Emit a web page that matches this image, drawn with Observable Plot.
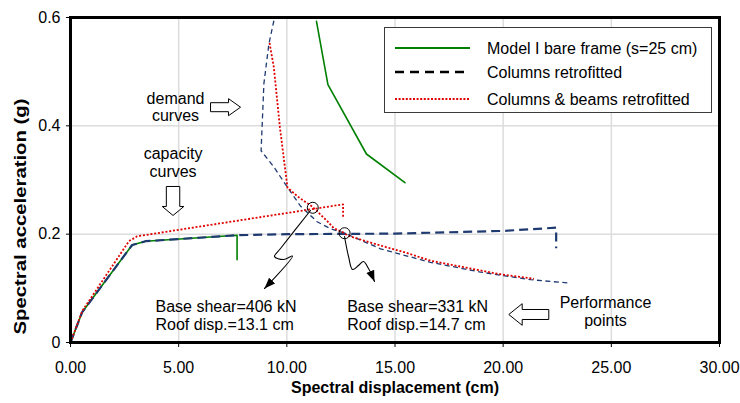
<!DOCTYPE html>
<html><head><meta charset="utf-8">
<script src="https://cdn.jsdelivr.net/npm/d3@7"></script>
<script src="https://cdn.jsdelivr.net/npm/@observablehq/plot@0.6"></script>
<style>
body{margin:0;background:#fff;}
#wrap{position:relative;width:740px;height:403px;font-family:"Liberation Sans",Arial,sans-serif;}
#legend{position:absolute;left:384px;top:27px;width:328px;height:86px;box-sizing:border-box;border:1.5px solid #3a3a3a;background:#fff;}
</style></head>
<body><div id="wrap"></div>
<script>
// ---- data ----
const xTicks = [0, 5, 10, 15, 20, 25, 30];
const yTicks = [0, 0.2, 0.4, 0.6];
const gridX = [5, 10, 15, 20, 25];
const gridY = [0.2, 0.4];
const seriesNames = ["Model I bare frame (s=25 cm)", "Columns retrofitted", "Columns & beams retrofitted"];
const xTitle = "Spectral displacement (cm)";
const yTitle = "Spectral acceleration (g)";

// capacity curves
const bareCapX = [0, 0.54, 2.85, 3.47, 7.7, 7.7];
const bareCapY = [0, 0.056, 0.18, 0.187, 0.198, 0.153];
const colCapX = [0, 0.54, 2.85, 3.47, 7.7, 10, 15, 20, 22.45, 22.45];
const colCapY = [0, 0.056, 0.18, 0.187, 0.198, 0.2, 0.201, 0.206, 0.212, 0.174];
const cbCapX = [0, 0.54, 2.7, 3.08, 5, 10, 12.6, 12.6];
const cbCapY = [0, 0.058, 0.187, 0.196, 0.208, 0.239, 0.255, 0.232];

// demand curves
const bareDemX = [11.37, 11.9, 13.68, 15.46];
const bareDemY = [0.593, 0.476, 0.348, 0.295];
const colDemX = [9.4, 9.17, 8.94, 8.81, 9.4, 10.02, 10.63, 11.4, 12.02, 12.64, 14.33, 16.64, 18.95, 21.26, 23.11];
const colDemY = [0.594, 0.551, 0.478, 0.354, 0.324, 0.287, 0.252, 0.223, 0.21, 0.2025, 0.173, 0.148, 0.13, 0.116, 0.1095];
const cbDemX = [9.2, 9.4, 9.68, 10.03, 10.55, 11.17, 11.87, 12.17, 12.64, 12.79, 14.33, 15.41, 16.64, 18.18, 19.72, 21.42];
const cbDemY = [0.553, 0.508, 0.397, 0.286, 0.268, 0.251, 0.224, 0.211, 0.2025, 0.1975, 0.179, 0.167, 0.151, 0.139, 0.127, 0.1175];

// performance points
const perfX = [11.2, 12.67];
const perfY = [0.2487, 0.2018];

// squiggle arrows (data units)
const arrow1X = [11.094, 9.707, 9.43, 9.846, 10.262, 8.968];
const arrow1Y = [0.2437, 0.1735, 0.1588, 0.1532, 0.1597, 0.0997];
const arrow2X = [12.666, 12.851, 13.036, 13.313, 13.544, 13.775, 14.052];
const arrow2Y = [0.1957, 0.1588, 0.1348, 0.1422, 0.1495, 0.1366, 0.1126];

// annotation texts
const noteTexts = ["demand\ncurves", "capacity\ncurves", "Performance\npoints"];
const noteX = [4.854, 4.74, 24.73];
const noteY = [0.4641, 0.362, 0.0866];
const infoTexts = ["Base shear=406 kN\nRoof disp.=13.1 cm", "Base shear=331 kN\nRoof disp.=14.7 cm"];
const infoX = [3.929, 12.79];
const infoY = [0.0801, 0.0801];

// hollow block arrows (tip positions)
const blockDir = ["right", "down", "left"];
const blockX = [7.86, 4.74, 20.26];
const blockY = [0.4344, 0.2345, 0.0517];

// ---- build ----
const rows = (xs, ys) => xs.map((x, i) => ({x, y: ys[i]}));
const GREEN = "#008000", BLUE = "#1f3a70", RED = "#e00000";
const FONT = '"Liberation Sans", Arial, sans-serif';

function poly(pts) {
  return {draw(ctx) { ctx.moveTo(pts[0][0], pts[0][1]); for (let i = 1; i < pts.length; i++) ctx.lineTo(pts[i][0], pts[i][1]); ctx.closePath(); }};
}
const blockSymbols = {
  right: poly([[0,0],[-12,-8.5],[-12,-4.5],[-30,-4.5],[-30,4.5],[-12,4.5],[-12,8.5]]),
  down: poly([[0,0],[-10.8,-9],[-6.7,-9],[-6.7,-29],[6.7,-29],[6.7,-9],[10.8,-9]]),
  left: poly([[0,0],[13.4,-10.8],[13.4,-5],[40,-5],[40,5],[13.4,5],[13.4,10.8]])
};
const blocks = blockDir.map((d, i) => ({dir: d, x: blockX[i], y: blockY[i]}));

const chart = Plot.plot({
  width: 740, height: 403,
  marginLeft: 70, marginRight: 21, marginTop: 17, marginBottom: 61,
  style: {fontFamily: FONT, fontSize: "16px", color: "#000", background: "#fff", overflow: "visible"},
  x: {domain: [0, 30], ticks: xTicks, tickFormat: d => d.toFixed(2), tickSize: 5, tickPadding: 14, label: null},
  y: {domain: [0, 0.6], ticks: yTicks, tickFormat: d => d === 0 ? "0" : d.toFixed(1), tickSize: 4, tickPadding: 6, label: null},
  marks: [
    Plot.ruleX(gridX, {stroke: "#dcdcdc", strokeWidth: 1.5}),
    Plot.ruleY(gridY, {stroke: "#dcdcdc", strokeWidth: 1.5}),
    Plot.line(rows(bareCapX, bareCapY), {x: "x", y: "y", stroke: GREEN, strokeWidth: 1.6}),
    Plot.line(rows(bareDemX, bareDemY), {x: "x", y: "y", stroke: GREEN, strokeWidth: 1.6}),
    Plot.line(rows(colCapX, colCapY), {x: "x", y: "y", stroke: BLUE, strokeWidth: 2.2, strokeDasharray: "9,5", strokeLinecap: "butt"}),
    Plot.line(rows(colDemX, colDemY), {x: "x", y: "y", stroke: BLUE, strokeWidth: 1.3, strokeDasharray: "5,3.5", strokeLinecap: "butt"}),
    Plot.line(rows(cbCapX, cbCapY), {x: "x", y: "y", stroke: RED, strokeWidth: 1.8, strokeDasharray: "2,1.8", strokeLinecap: "butt"}),
    Plot.line(rows(cbDemX, cbDemY), {x: "x", y: "y", stroke: RED, strokeWidth: 1.8, strokeDasharray: "2,1.8", strokeLinecap: "butt"}),
    Plot.dot(rows(perfX, perfY), {x: "x", y: "y", r: 5.5, stroke: "#000", strokeWidth: 1, fill: "none"}),
    Plot.line(rows(arrow1X, arrow1Y), {x: "x", y: "y", stroke: "#000", strokeWidth: 1.1, curve: "catmull-rom"}),
    Plot.line(rows(arrow2X, arrow2Y), {x: "x", y: "y", stroke: "#000", strokeWidth: 1.1, curve: "catmull-rom"}),
    ...["right", "down", "left"].map(d => Plot.dot(blocks.filter(b => b.dir === d), {x: "x", y: "y", symbol: blockSymbols[d], fill: "#fff", stroke: "#000", strokeWidth: 1})),
    Plot.text(noteTexts.map((t, i) => ({t, x: noteX[i], y: noteY[i]})), {x: "x", y: "y", text: "t", textAnchor: "middle", lineAnchor: "top", lineHeight: 1.1, fontSize: 16, fill: "#000"}),
    Plot.text(infoTexts.map((t, i) => ({t, x: infoX[i], y: infoY[i]})), {x: "x", y: "y", text: "t", textAnchor: "start", lineAnchor: "top", lineHeight: 1.12, fontSize: 16, fill: "#000"}),
    Plot.text([xTitle], {text: d => d, frameAnchor: "bottom", dy: 50, textAnchor: "middle", fontWeight: "bold", fontSize: 16, fill: "#000"}),
    Plot.text([yTitle], {text: d => d, frameAnchor: "left", dx: -50, dy: 36.5, rotate: -90, textAnchor: "middle", lineAnchor: "middle", fontWeight: "bold", fontSize: 16, fill: "#000"}),
    Plot.frame({stroke: "#000", strokeWidth: 3})
  ]
});

const wrap = document.getElementById("wrap");
wrap.appendChild(chart);

const svg = d3.select(chart);
// arrowheads on the squiggle arrows
const squiggles = svg.selectAll("path").filter(function () {
  const g = this.parentNode;
  const st = this.getAttribute("stroke") || (g && g.getAttribute("stroke"));
  const sw = this.getAttribute("stroke-width") || (g && g.getAttribute("stroke-width"));
  return st === "#000" && String(sw) === "1.1";
});
const defs = svg.append("defs");
defs.append("marker").attr("id", "ahead").attr("viewBox", "-11 -5 11 10")
  .attr("refX", 0).attr("refY", 0).attr("markerWidth", 11).attr("markerHeight", 10)
  .attr("markerUnits", "userSpaceOnUse").attr("orient", "auto")
  .append("path").attr("d", "M-11,-4.2L0,0L-11,4.2Z").attr("fill", "#000");
squiggles.attr("marker-end", "url(#ahead)");

// y title stretch
svg.selectAll("text").filter(function () { return this.textContent === yTitle; })
  .attr("text-anchor", "middle").attr("textLength", 236).attr("lengthAdjust", "spacingAndGlyphs");

// legend
const leg = document.createElement("div");
leg.id = "legend";
wrap.appendChild(leg);
const ls = d3.select(leg).append("svg").attr("width", 325).attr("height", 83).style("display", "block");
const legStyles = [
  {stroke: GREEN, w: 2, dash: null},
  {stroke: "#000", w: 2.6, dash: "9,6"},
  {stroke: RED, w: 2.2, dash: "2,1.6"}
];
const legRowY = [20, 44, 71];
seriesNames.forEach((name, i) => {
  const s = legStyles[i];
  const l = ls.append("line").attr("x1", 10).attr("x2", 85).attr("y1", legRowY[i]).attr("y2", legRowY[i])
    .attr("stroke", s.stroke).attr("stroke-width", s.w);
  if (s.dash) l.attr("stroke-dasharray", s.dash);
  ls.append("text").attr("x", 102).attr("y", legRowY[i]).attr("dy", "0.35em")
    .attr("font-family", FONT).attr("font-size", 16).attr("fill", "#000").text(name);
});
</script>
</body></html>
